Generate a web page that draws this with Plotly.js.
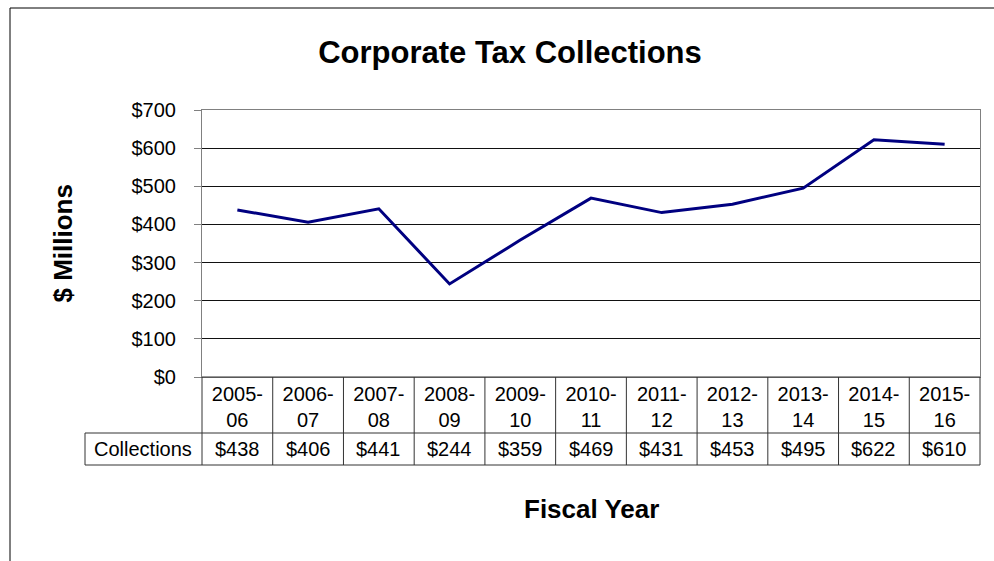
<!DOCTYPE html>
<html>
<head>
<meta charset="utf-8">
<script src="https://cdn.plot.ly/plotly-3.0.1.min.js"></script>
<style>
html,body{margin:0;padding:0;background:#fff;}
#chart{width:994px;height:561px;}
</style>
</head>
<body>
<div id="chart"></div>
<script>
// ---- data ----
var categories = ['2005-06','2006-07','2007-08','2008-09','2009-10','2010-11','2011-12','2012-13','2013-14','2014-15','2015-16'];
var collections = [438, 406, 441, 244, 359, 469, 431, 453, 495, 622, 610];
var yTickVals = [0, 100, 200, 300, 400, 500, 600, 700];
var yTickText = ['$0', '$100', '$200', '$300', '$400', '$500', '$600', '$700'];
var seriesName = 'Collections';

// ---- layout geometry (pixels) ----
var W = 994, H = 561;
var ML = 202, MR = 14, MT = 110, MB = 184;
var PW = W - ML - MR, PH = H - MT - MB;
function px2xp(px){ return (px - ML) / PW; }
function py2yp(py){ return (H - MB - py) / PH; }
var n = categories.length;
function idxEdge(i){ return i / n; } // paper x of category boundary

var FONT = 'Liberation Sans, Arial, sans-serif';
var TS = 20;
var tickText = categories.map(function(c){ var p = c.split('-'); return p[0] + '-<br>' + p[1]; });

var lineCol = '#333333';
var shapes = [];
// vertical table lines
for (var i = 0; i <= n; i++) {
  shapes.push({type:'line', xref:'paper', yref:'paper', x0:idxEdge(i), x1:idxEdge(i), y0:0, y1:py2yp(465), line:{color:lineCol, width:1}});
}
// horizontal table lines
shapes.push({type:'line', xref:'paper', yref:'paper', x0:px2xp(85), x1:1, y0:py2yp(433), y1:py2yp(433), line:{color:lineCol, width:1}});
shapes.push({type:'line', xref:'paper', yref:'paper', x0:px2xp(85), x1:1, y0:py2yp(465), y1:py2yp(465), line:{color:lineCol, width:1}});
shapes.push({type:'line', xref:'paper', yref:'paper', x0:px2xp(85), x1:px2xp(85), y0:py2yp(433), y1:py2yp(465), line:{color:lineCol, width:1}});
shapes.push({type:'line', xref:'paper', yref:'paper', x0:0, x1:1, y0:0, y1:0, line:{color:lineCol, width:1}});
// outer chart border
shapes.push({type:'rect', xref:'paper', yref:'paper', x0:px2xp(10), x1:px2xp(1010), y0:py2yp(580), y1:py2yp(8), line:{color:'#000000', width:1}, fillcolor:'rgba(0,0,0,0)'});

var annotations = [];
collections.forEach(function(v, i){
  annotations.push({xref:'x', yref:'paper', x:categories[i], y:py2yp(449), text:'$' + v, showarrow:false, xanchor:'center', yanchor:'middle', font:{family:FONT, size:TS, color:'#000'}});
});
annotations.push({xref:'paper', yref:'paper', x:px2xp(143), y:py2yp(449), text:seriesName, showarrow:false, xanchor:'center', yanchor:'middle', font:{family:FONT, size:TS, color:'#000'}});
annotations.push({xref:'paper', yref:'paper', x:0.5, y:py2yp(509), text:'<b>Fiscal Year</b>', showarrow:false, xanchor:'center', yanchor:'middle', font:{family:FONT, size:26, color:'#000'}});
annotations.push({xref:'paper', yref:'paper', x:px2xp(62), y:0.5, text:'<b>$ Millions</b>', textangle:-90, showarrow:false, xanchor:'center', yanchor:'middle', font:{family:FONT, size:26, color:'#000'}});

var trace = {
  x: categories,
  y: collections,
  type: 'scatter',
  mode: 'lines',
  name: seriesName,
  line: {color:'#000080', width:3},
  hoverinfo: 'x+y'
};

var layout = {
  width: W, height: H,
  margin: {l:ML, r:MR, t:MT, b:MB, pad:0},
  paper_bgcolor: '#ffffff',
  plot_bgcolor: '#ffffff',
  showlegend: false,
  title: {text:'<b>Corporate Tax Collections</b>', xref:'container', yref:'container', x:510/W, y:1-52/H, xanchor:'center', yanchor:'middle', font:{family:FONT, size:31, color:'#000'}},
  xaxis: {
    type:'category', range:[-0.5, n-0.5], fixedrange:true,
    tickmode:'array', tickvals:categories, ticktext:tickText,
    showgrid:false, zeroline:false,
    showline:true, mirror:true, linecolor:'#808080', linewidth:1,
    ticks:'', tickfont:{family:FONT, size:TS, color:'#000'},
    ticklabelstandoff: -1
  },
  yaxis: {
    range:[0, 700], fixedrange:true,
    tickmode:'array', tickvals:yTickVals, ticktext:yTickText,
    showgrid:true, gridcolor:'#111111', gridwidth:1,
    zeroline:false,
    showline:true, mirror:true, linecolor:'#808080', linewidth:1,
    ticks:'outside', ticklen:7, tickcolor:'#808080', tickwidth:1,
    tickfont:{family:FONT, size:TS, color:'#000'},
    ticklabelstandoff: 14
  },
  shapes: shapes,
  annotations: annotations
};

Plotly.newPlot('chart', [trace], layout, {displayModeBar:false, staticPlot:true});
</script>
</body>
</html>
